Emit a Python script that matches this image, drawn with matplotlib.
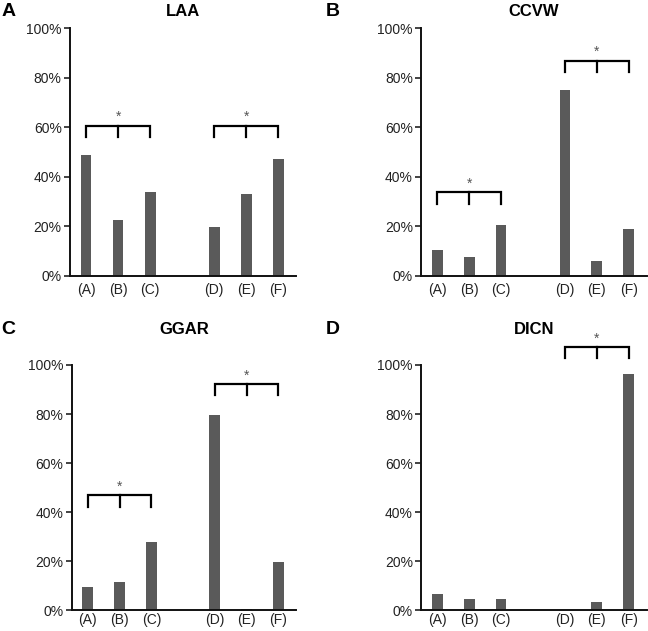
import matplotlib
matplotlib.use("Agg")
import matplotlib.pyplot as plt
from matplotlib.ticker import FuncFormatter

plt.rcParams['font.family'] = ['Liberation Sans', 'DejaVu Sans']

categories = ["(A)", "(B)", "(C)", "(D)", "(E)", "(F)"]
positions = [0, 1, 2, 4, 5, 6]

titles = ["LAA", "CCVW", "GGAR", "DICN"]
panel_letters = ["A", "B", "C", "D"]

laa = [48.7, 22.5, 34.0, 19.7, 33.1, 47.1]
ccvw = [10.5, 7.5, 20.6, 75.1, 5.9, 18.8]
ggar = [9.6, 11.6, 27.8, 79.5, 0.5, 19.8]
dicn = [6.7, 4.6, 4.6, 0.0, 3.5, 96.4]

# significance brackets: (first index, last index, bracket height %)
brackets_laa = [(0, 2, 60.6), (3, 5, 60.6)]
brackets_ccvw = [(0, 2, 33.9), (3, 5, 86.9)]
brackets_ggar = [(0, 2, 46.8), (3, 5, 92.3)]
brackets_dicn = [(3, 5, 107.4)]

series = [laa, ccvw, ggar, dicn]
brackets = [brackets_laa, brackets_ccvw, brackets_ggar, brackets_dicn]

fig = plt.figure(figsize=(6.48, 6.31), dpi=100)

# axes rectangles [left, bottom, width, height]
rects = [
    [0.108, 0.5626, 0.349, 0.393],
    [0.650, 0.5626, 0.348, 0.393],
    [0.111, 0.0330, 0.346, 0.3886],
    [0.650, 0.0330, 0.348, 0.3886],
]
label_y = [0.993, 0.993, 0.490, 0.490]
label_x = [0.002, 0.502, 0.002, 0.502]
xpads = [5, 5, 2, 2]

bar_color = "#5a5a5a"

for i in range(4):
    ax = fig.add_axes(rects[i])
    vals = series[i]
    ax.bar(positions, vals, width=0.34, color=bar_color, edgecolor="none")
    ax.set_xlim(-0.5, 6.56)
    ax.set_ylim(0, 100)
    ax.set_yticks([0, 20, 40, 60, 80, 100])
    ax.yaxis.set_major_formatter(FuncFormatter(lambda v, p: f"{int(v)}%"))
    ax.set_xticks(positions)
    ax.set_xticklabels(categories)
    ax.tick_params(axis='x', length=0, labelsize=10, pad=xpads[i], colors="#222222")
    ax.tick_params(axis='y', length=4, width=1.2, labelsize=10, pad=2, colors="#222222")
    for s in ["top", "right"]:
        ax.spines[s].set_visible(False)
    for s in ["left", "bottom"]:
        ax.spines[s].set_linewidth(1.4)
        ax.spines[s].set_color("#111111")

    for (a, b, h) in brackets[i]:
        x0 = positions[a]
        x1 = positions[b]
        xm = positions[a + 1]
        drop = 4.7
        ax.plot([x0, x0, x1, x1], [h - drop, h, h, h - drop], color="black",
                lw=1.6, clip_on=False, solid_joinstyle="miter")
        ax.plot([xm, xm], [h, h - drop], color="black", lw=1.6, clip_on=False)
        ax.text(xm, h + 0.6, "*", ha="center", va="bottom", fontsize=10,
                color="#555555", clip_on=False)

    cx = rects[i][0] + rects[i][2] / 2
    fig.text(cx, label_y[i], titles[i], ha="center", va="top",
             fontsize=12, fontweight="bold")
    fig.text(label_x[i], label_y[i] + 0.002, panel_letters[i], ha="left", va="top",
             fontsize=14, fontweight="bold")

fig.savefig("out.png", dpi=100)
